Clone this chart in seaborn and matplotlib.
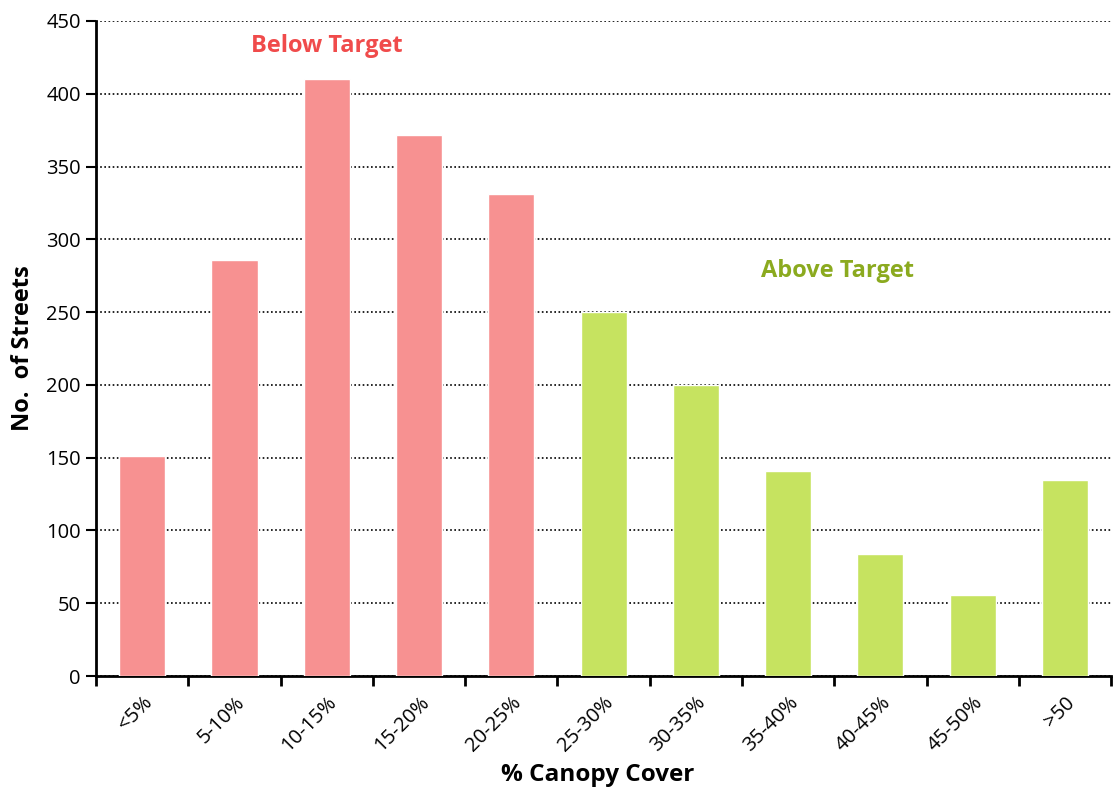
import matplotlib
matplotlib.use("Agg")
import matplotlib.pyplot as plt
import numpy as np
import pandas as pd
import seaborn as sns

# Categorie e valori
categories = ["<5%", "5-10%", "10-15%", "15-20%", "20-25%", "25-30%",
              "30-35%", "35-40%", "40-45%", "45-50%", ">50"]
streets = [151, 286, 410, 372, 331, 250, 200, 141, 84, 56, 135]
groups = ["Below"] * 5 + ["Above"] * 6

palette = {"Below": "#F79191", "Above": "#C6E360"}

sns.set_theme(style="white")
plt.rcParams["font.family"] = ["Open Sans", "DejaVu Sans"]
plt.rcParams["text.color"] = "black"
plt.rcParams["axes.labelcolor"] = "black"
plt.rcParams["xtick.color"] = "black"
plt.rcParams["ytick.color"] = "black"

df = pd.DataFrame({"cover": categories, "streets": streets, "group": groups})

fig = plt.figure(figsize=(11.13, 7.89), dpi=100)
ax = fig.add_axes([0.0863, 0.1432, 0.912, 0.8302])

sns.barplot(data=df, x="cover", y="streets", hue="group", palette=palette,
            dodge=False, width=0.5, saturation=1, legend=False, ax=ax,
            zorder=3)

ax.set_xlim(-0.5, len(categories) - 0.5)
ax.set_ylim(0, 450)
ax.set_yticks(np.arange(0, 451, 50))
ax.yaxis.grid(True, color="black", linestyle=(0, (1, 1.5)), linewidth=1.2, zorder=0)
ax.set_axisbelow(True)

# tacche sui confini delle categorie, etichette al centro
ax.set_xticks(np.arange(len(categories)))
ax.set_xticklabels(categories, rotation=45, ha="right", va="top",
                   rotation_mode="anchor", fontsize=14.5)
ax.set_xticks(np.arange(-0.5, len(categories)), minor=True)
ax.tick_params(axis="x", which="major", bottom=True, length=0, pad=12)
ax.tick_params(axis="x", which="minor", bottom=True, length=7, width=2,
               direction="out", color="black")
ax.tick_params(axis="y", left=True, length=7, width=1.5, direction="out",
               color="black", labelsize=14.5, pad=4)

for side in ["top", "right"]:
    ax.spines[side].set_visible(False)
for side in ["left", "bottom"]:
    ax.spines[side].set_color("black")
    ax.spines[side].set_linewidth(2)

ax.set_xlabel("% Canopy Cover", fontsize=17.5, fontweight="bold", va="center")
ax.xaxis.set_label_coords(0.494, -0.151)
ax.set_ylabel("No.  of Streets", fontsize=17, fontweight="bold", labelpad=8)

ax.text(2.0, 433, "Below Target", color="#F04B4B", fontsize=17,
        fontweight="bold", ha="center", va="center")
ax.text(7.53, 278, "Above Target", color="#8BAA1F", fontsize=17,
        fontweight="bold", ha="center", va="center")

fig.savefig("out.png", dpi=100)
